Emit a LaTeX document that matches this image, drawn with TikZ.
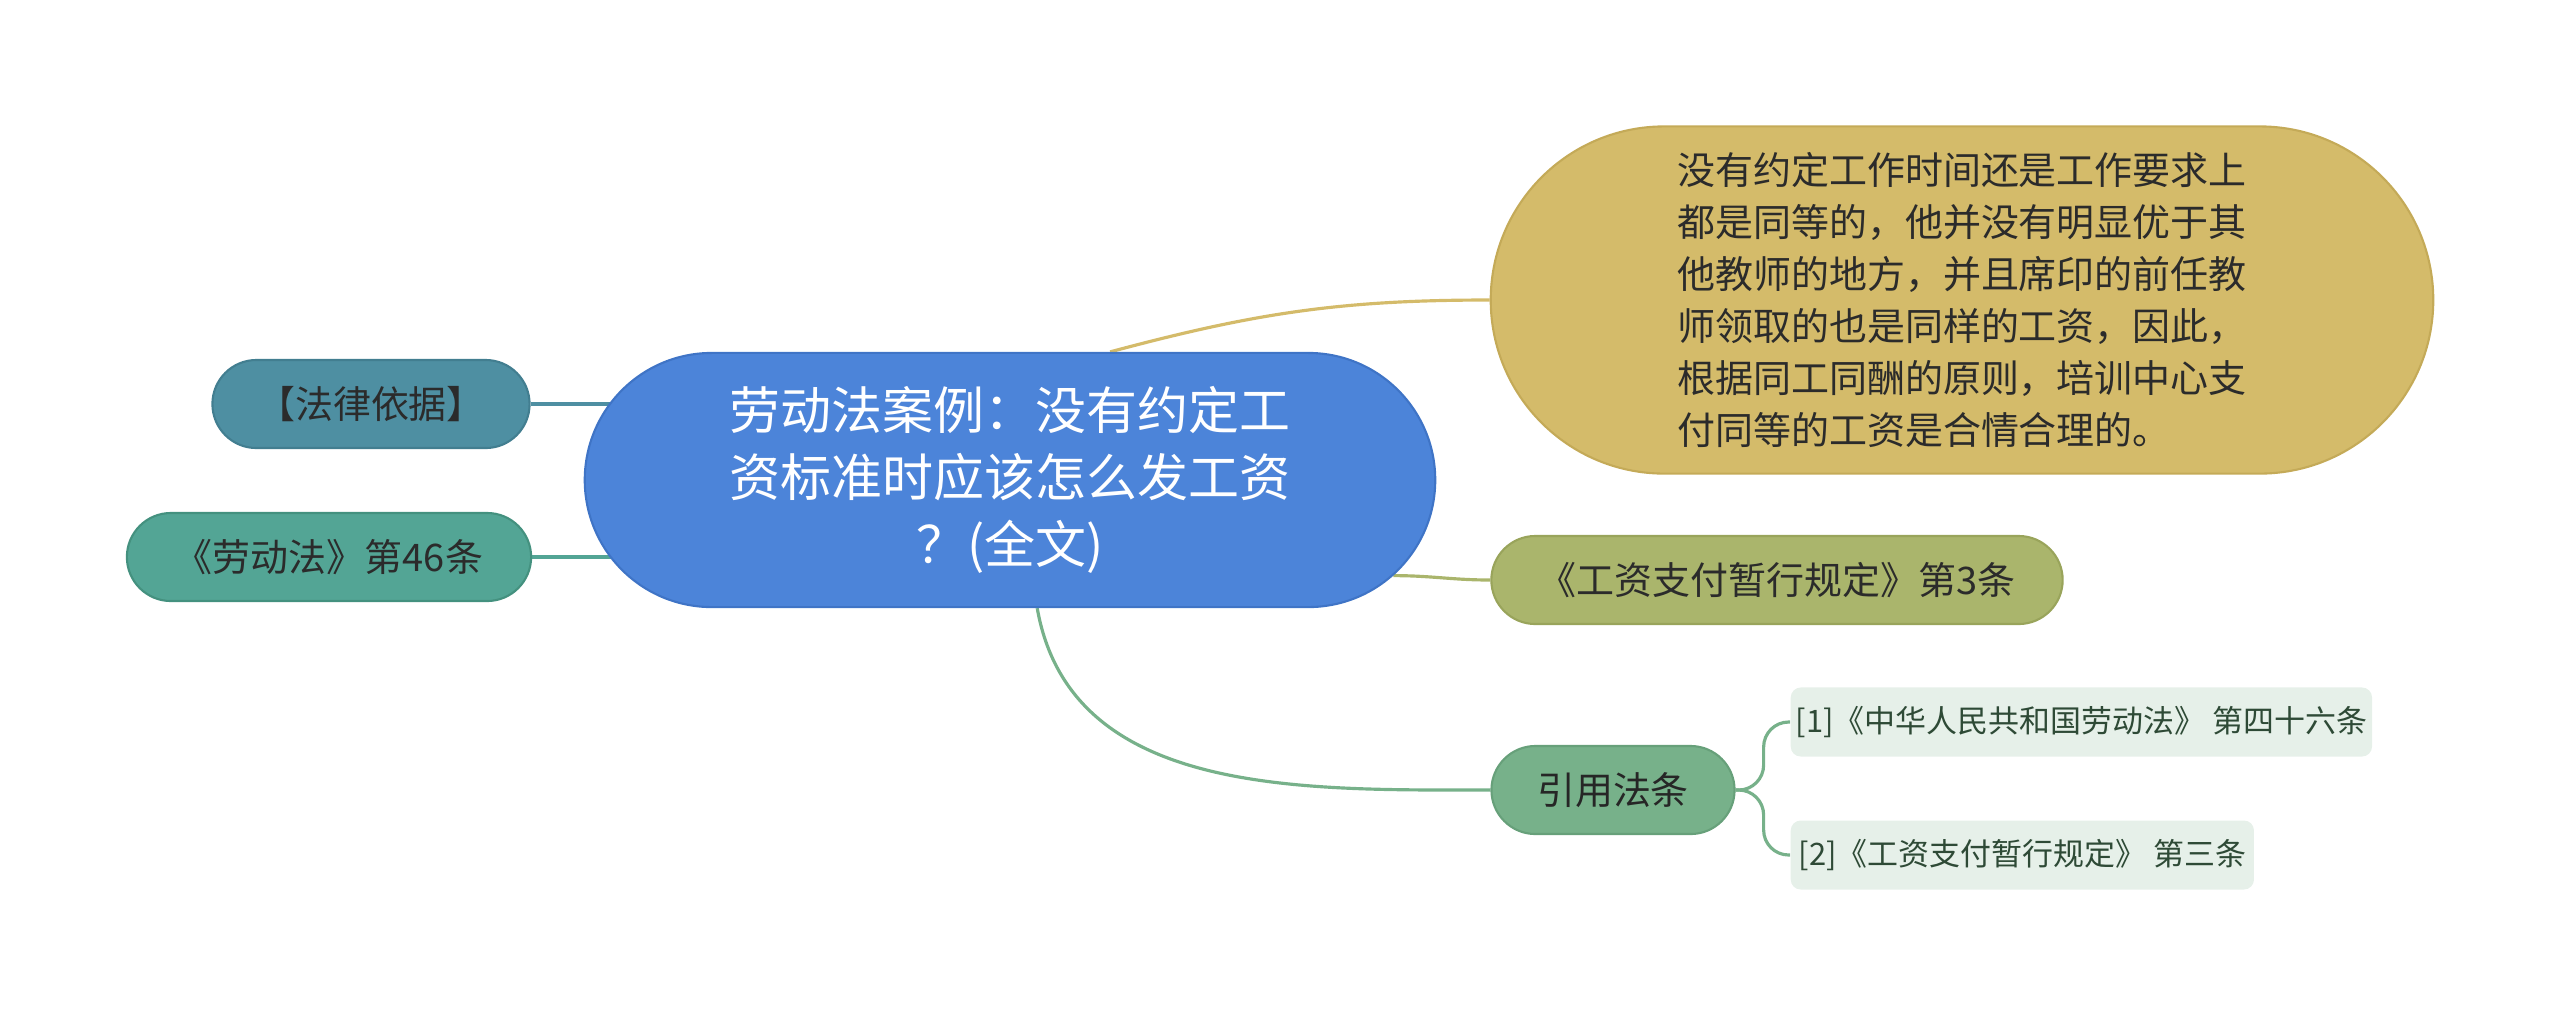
\documentclass[tikz,border=0pt]{standalone}
\usepackage{fontspec}
\setmainfont{Noto Sans CJK SC}
\usetikzlibrary{shapes.misc, backgrounds}
\definecolor{topicfill}{HTML}{4C84D9}
\definecolor{topicedge}{HTML}{3F74C6}
\definecolor{goldfill}{HTML}{D4BB6A}
\definecolor{goldedge}{HTML}{C4AA58}
\definecolor{olivefill}{HTML}{AAB56C}
\definecolor{oliveedge}{HTML}{99A45B}
\definecolor{greenfill}{HTML}{77B18A}
\definecolor{greenedge}{HTML}{67A07A}
\definecolor{citefill}{HTML}{E6F0E9}
\definecolor{citetext}{HTML}{2E4A36}
\definecolor{bluegreen}{HTML}{4E8FA2}
\definecolor{bluegreenedge}{HTML}{427E90}
\definecolor{tealfill}{HTML}{53A595}
\definecolor{tealedge}{HTML}{44917F}
\definecolor{darktext}{HTML}{2B2B2B}
\tikzset{
	pill/.style={rounded rectangle, draw, line width=0.6pt, inner sep=0pt,
		align=center, text=darktext, font=\fontsize{10.8pt}{14.8pt}\selectfont},
	topic/.style={pill, fill=topicfill, draw=topicedge, text=white,
		minimum width=8.5cm, minimum height=2.54cm,
		font=\fontsize{14.5pt}{19pt}\selectfont},
	detail/.style={pill, fill=goldfill, draw=goldedge, align=left,
		minimum width=9.42cm, minimum height=3.47cm},
	branch/.style={pill, minimum height=0.88cm},
	cite/.style={rectangle, rounded corners=0.1cm, fill=citefill, text=citetext,
		minimum height=0.69cm, inner sep=0pt, anchor=west,
		font=\fontsize{8.8pt}{11pt}\selectfont},
	link/.style={line width=0.9pt}
}

\begin{document}
\begin{tikzpicture}[x=0.01cm, y=-0.01cm]

	\useasboundingbox (0,0) rectangle (2560,1017);

	%% ---- centre topic ----
	\node[topic] (root) at (1010,480)
	{劳动法案例：没有约定工\\资标准时应该怎么发工资\\？(全文)};

	%% ---- right side ----
	\node[detail] (note) at (1962,300)
	{没有约定工作时间还是工作要求上\\
		都是同等的，他并没有明显优于其\\
		他教师的地方，并且席印的前任教\\
		师领取的也是同样的工资，因此，\\
		根据同工同酬的原则，培训中心支\\
		付同等的工资是合情合理的。};
	\node[branch, fill=olivefill, draw=oliveedge, minimum width=5.71cm]
	(rule) at (1777,580) {《工资支付暂行规定》第3条};
	\node[branch, fill=greenfill, draw=greenedge, text=black!85,
	minimum width=2.43cm] (cites) at (1613,790) {引用法条};
	\node[cite, minimum width=5.81cm] (cite1) at (1790,722)
	{[1]《中华人民共和国劳动法》 第四十六条};
	\node[cite, minimum width=4.63cm] (cite2) at (1790,855)
	{[2]《工资支付暂行规定》 第三条};

	%% ---- left side ----
	\node[branch, fill=bluegreen, draw=bluegreenedge, minimum width=3.17cm]
	(basis) at (371,404) {【法律依据】};
	\node[branch, fill=tealfill, draw=tealedge, minimum width=4.04cm]
	(law) at (329,557) {《劳动法》第46条};

	%% ---- connectors ----
	\begin{scope}[on background layer]
		\draw[link, goldfill] (root.52) to[out=15, in=180] (note.west);
		\draw[link, olivefill] (root.-14) to[out=0, in=180] (rule.west);
		\draw[link, greenfill] (root.-78) to[out=-80, in=180] (cites.west);
		\draw[link, bluegreen] (basis.east) -- (basis.east -| root.center);
		\draw[link, tealfill] (law.east) -- (law.east -| root.center);
		\draw[link, greenfill, rounded corners=0.25cm]
		(cites.east) -- ++(28,0) |- (cite1.west);
		\draw[link, greenfill, rounded corners=0.25cm]
		(cites.east) -- ++(28,0) |- (cite2.west);
	\end{scope}

\end{tikzpicture}
\end{document}
